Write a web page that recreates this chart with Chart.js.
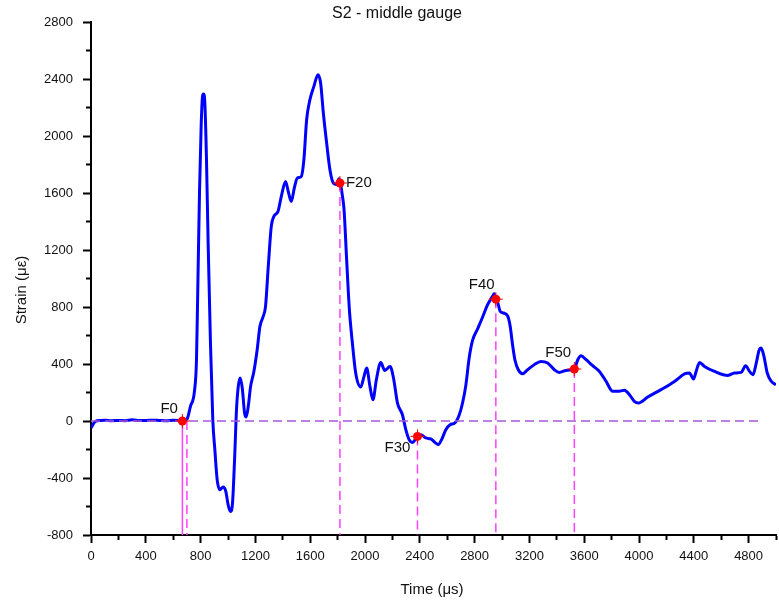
<!DOCTYPE html>
<html>
<head>
<meta charset="utf-8">
<script src="https://cdn.jsdelivr.net/npm/chart.js@4.4.0/dist/chart.umd.min.js"></script>
<style>
  html, body { margin: 0; padding: 0; background: #fff; }
</style>
</head>
<body>
<canvas id="chart" width="779" height="601"></canvas>
<script>
/* S2 - middle gauge: strain vs time, with F-markers and guide lines */

// curve (time in µs, strain in µε)
const timeUs = [0, 31, 68, 100, 150, 200, 250, 300, 350, 400, 450, 500, 550, 600, 640, 667,
  701, 726, 755, 770, 779, 792, 804, 814, 821, 831, 843, 855, 872, 889, 904, 921, 940, 965,
  984, 1001, 1018, 1033, 1048, 1062, 1075, 1089, 1104, 1121, 1133, 1148, 1165, 1189, 1213,
  1233, 1257, 1274, 1294, 1316, 1335, 1365, 1390, 1420, 1440, 1462, 1485, 1506, 1535, 1554,
  1574, 1598, 1627, 1657, 1676, 1696, 1720, 1744, 1769, 1793, 1810, 1820, 1832, 1847, 1866,
  1886, 1908, 1932, 1969, 1993, 2012, 2036, 2058, 2083, 2115, 2144, 2183, 2208, 2237, 2273,
  2298, 2322, 2346, 2383, 2407, 2444, 2480, 2510, 2534, 2559, 2590, 2621, 2656, 2687, 2712,
  2736, 2760, 2785, 2822, 2858, 2895, 2931, 2943, 2955, 2968, 2987, 3011, 3041, 3060, 3077,
  3094, 3119, 3150, 3187, 3235, 3284, 3333, 3382, 3418, 3467, 3528, 3553, 3577, 3614, 3662,
  3711, 3760, 3808, 3845, 3893, 3930, 3966, 3995, 4064, 4161, 4259, 4332, 4368, 4398, 4417,
  4442, 4478, 4551, 4649, 4697, 4746, 4778, 4807, 4832, 4856, 4876, 4892, 4912, 4936, 4966, 5000];
const strain = [-49, -3, 4, 5, 2, 4, 2, 8, 4, 3, 6, 4, 2, 5, 3, 0,
  14, 103, 208, 430, 898, 1600, 2067, 2278, 2295, 2231, 1834, 1249, 547, 9, -201, -412, -482, -463,
  -494, -588, -635, -575, -272, 79, 243, 302, 232, 56, 28, 103, 243, 348, 500,
  664, 734, 804, 1085, 1366, 1436, 1471, 1580, 1681, 1610, 1541, 1640, 1705, 1716, 1834,
  2114, 2255, 2348, 2430, 2372, 2161, 1951, 1764, 1670, 1660, 1700, 1670, 1600, 1483, 1132,
  781, 547, 337, 239, 313, 372, 243, 149, 290, 411, 355, 383, 302, 126, 44,
  -61, -131, -150, -108, -96, -119, -126, -150, -166, -131, -61, -26, -14, 40, 126,
  250, 440, 565, 647, 728, 816, 875, 893, 860, 835, 769, 758, 737, 664, 535,
  430, 360, 332, 360, 395, 418, 407, 360, 341, 355, 365, 430, 458, 430, 388,
  348, 278, 208, 208, 215, 185, 138, 126, 168, 220, 278, 330, 337, 295, 348,
  411, 383, 348, 320, 337, 341, 388, 348, 325, 407, 495, 512, 453, 337, 278, 255];

// marked points
const markNames = ['F0', 'F20', 'F30', 'F40', 'F50'];
const markTime = [667, 1817, 2383, 2955, 3528];
const markStrain = [0, 1670, -108, 855, 365];

// guide lines
const zeroLineTime = [0, 4905];
const secondF0Time = 700;   // dashed line just right of F0

// axes
const xMin = 0, xMax = 5000, yMin = -800, yMax = 2800;
const minorStep = 200, majorStep = 400;

const FONT = "'Liberation Sans', Arial, sans-serif";
const blue = '#0000ff';
const red = '#ff0000';
const magenta = '#ff40ff';
const violet = '#a855d8';

const curve = timeUs.map((t, i) => ({ x: t, y: strain[i] }));
const marks = markTime.map((t, i) => ({ x: t, y: markStrain[i] }));

// vertical dashed drops from each mark to the bottom
const drops = markTime.slice(1).map((t, i) => ({
    data: [{ x: t, y: markStrain[i + 1] }, { x: t, y: yMin }],
    borderColor: magenta, borderWidth: 1.5, borderDash: [9, 5],
    pointRadius: 0, fill: false
}));

// label offsets in px from the mark (left edge, baseline)
const labelShift = { F0: [-22, -8], F20: [6, 4], F30: [-33, 16], F40: [-27, -10], F50: [-29, -12] };

const textPlugin = {
    id: 'texts',
    afterDraw(chart) {
        const ctx = chart.ctx;
        const xs = chart.scales.x, ys = chart.scales.y;
        ctx.save();
        ctx.fillStyle = '#111';
        ctx.font = '15px ' + FONT;
        ctx.textAlign = 'left';
        ctx.textBaseline = 'alphabetic';
        markNames.forEach((n, i) => {
            const px = xs.getPixelForValue(markTime[i]);
            const py = ys.getPixelForValue(markStrain[i]);
            ctx.fillText(n, px + labelShift[n][0], py + labelShift[n][1]);
        });

        // title
        ctx.font = '16px ' + FONT;
        ctx.textAlign = 'center';
        ctx.fillText('S2 - middle gauge', 397, 18);

        // axis titles
        ctx.font = '15px ' + FONT;
        ctx.textBaseline = 'middle';
        ctx.fillText('Time (\u03bcs)', 432, 590);
        ctx.translate(22, 290);
        ctx.rotate(-Math.PI / 2);
        ctx.fillText('Strain (\u03bc\u03b5)', 0, 0);
        ctx.restore();
    }
};

const tickLabel = v => (v % majorStep === 0 ? String(v) : '');

const myChart = new Chart(document.getElementById('chart'), {
    type: 'line',
    data: {
        datasets: [
            {   // red dots
                data: marks, showLine: false,
                pointStyle: 'circle', pointRadius: 4.5,
                pointBackgroundColor: red, pointBorderColor: red, pointBorderWidth: 0
            },
            {   // thin red crosses on the dots
                data: marks, showLine: false,
                pointStyle: 'cross', pointRadius: 7,
                pointBorderColor: red, pointBorderWidth: 1
            },
            {   // zero line
                data: zeroLineTime.map(t => ({ x: t, y: 0 })),
                borderColor: violet, borderWidth: 1.5, borderDash: [9, 5],
                pointRadius: 0, fill: false
            },
            {   // solid drop at F0
                data: [{ x: markTime[0], y: markStrain[0] }, { x: markTime[0], y: yMin }],
                borderColor: magenta, borderWidth: 1.5, pointRadius: 0, fill: false
            },
            {   // dashed drop next to F0
                data: [{ x: secondF0Time, y: 0 }, { x: secondF0Time, y: yMin }],
                borderColor: magenta, borderWidth: 1.5, borderDash: [9, 5],
                pointRadius: 0, fill: false
            },
            ...drops,
            {   // the strain trace
                data: curve,
                borderColor: blue, borderWidth: 3,
                cubicInterpolationMode: 'monotone',
                pointRadius: 0, fill: false
            }
        ]
    },
    options: {
        responsive: false,
        animation: false,
        devicePixelRatio: 1,
        layout: { autoPadding: false, padding: { left: 0, right: 3, top: 22, bottom: 0 } },
        plugins: {
            legend: { display: false },
            tooltip: { enabled: false },
            title: { display: false }
        },
        scales: {
            x: {
                type: 'linear', min: xMin, max: xMax,
                afterFit: s => { s.height = 66; s.paddingRight = 0; },
                ticks: {
                    stepSize: minorStep, autoSkip: false, maxRotation: 0,
                    padding: 6, color: '#111', font: { family: FONT, size: 13 },
                    callback: tickLabel
                },
                grid: {
                    drawOnChartArea: false, drawTicks: true, tickLength: 8,
                    tickWidth: 2, tickColor: '#000',
                    tickBorderDash: c => (c.tick && c.tick.value % majorStep !== 0 ? [4, 20] : [])
                },
                border: { display: true, color: '#000', width: 2 }
            },
            y: {
                type: 'linear', min: yMin, max: yMax,
                afterFit: s => { s.width = 91; },
                ticks: {
                    stepSize: minorStep, autoSkip: false,
                    padding: 10, color: '#111', font: { family: FONT, size: 13 },
                    callback: tickLabel
                },
                grid: {
                    drawOnChartArea: false, drawTicks: true, tickLength: 8,
                    tickWidth: 2, tickColor: '#000',
                    tickBorderDash: c => (c.tick && c.tick.value % majorStep !== 0 ? [0, 3, 4, 20] : [])
                },
                border: { display: true, color: '#000', width: 2 }
            }
        }
    },
    plugins: [textPlugin]
});
</script>
</body>
</html>
